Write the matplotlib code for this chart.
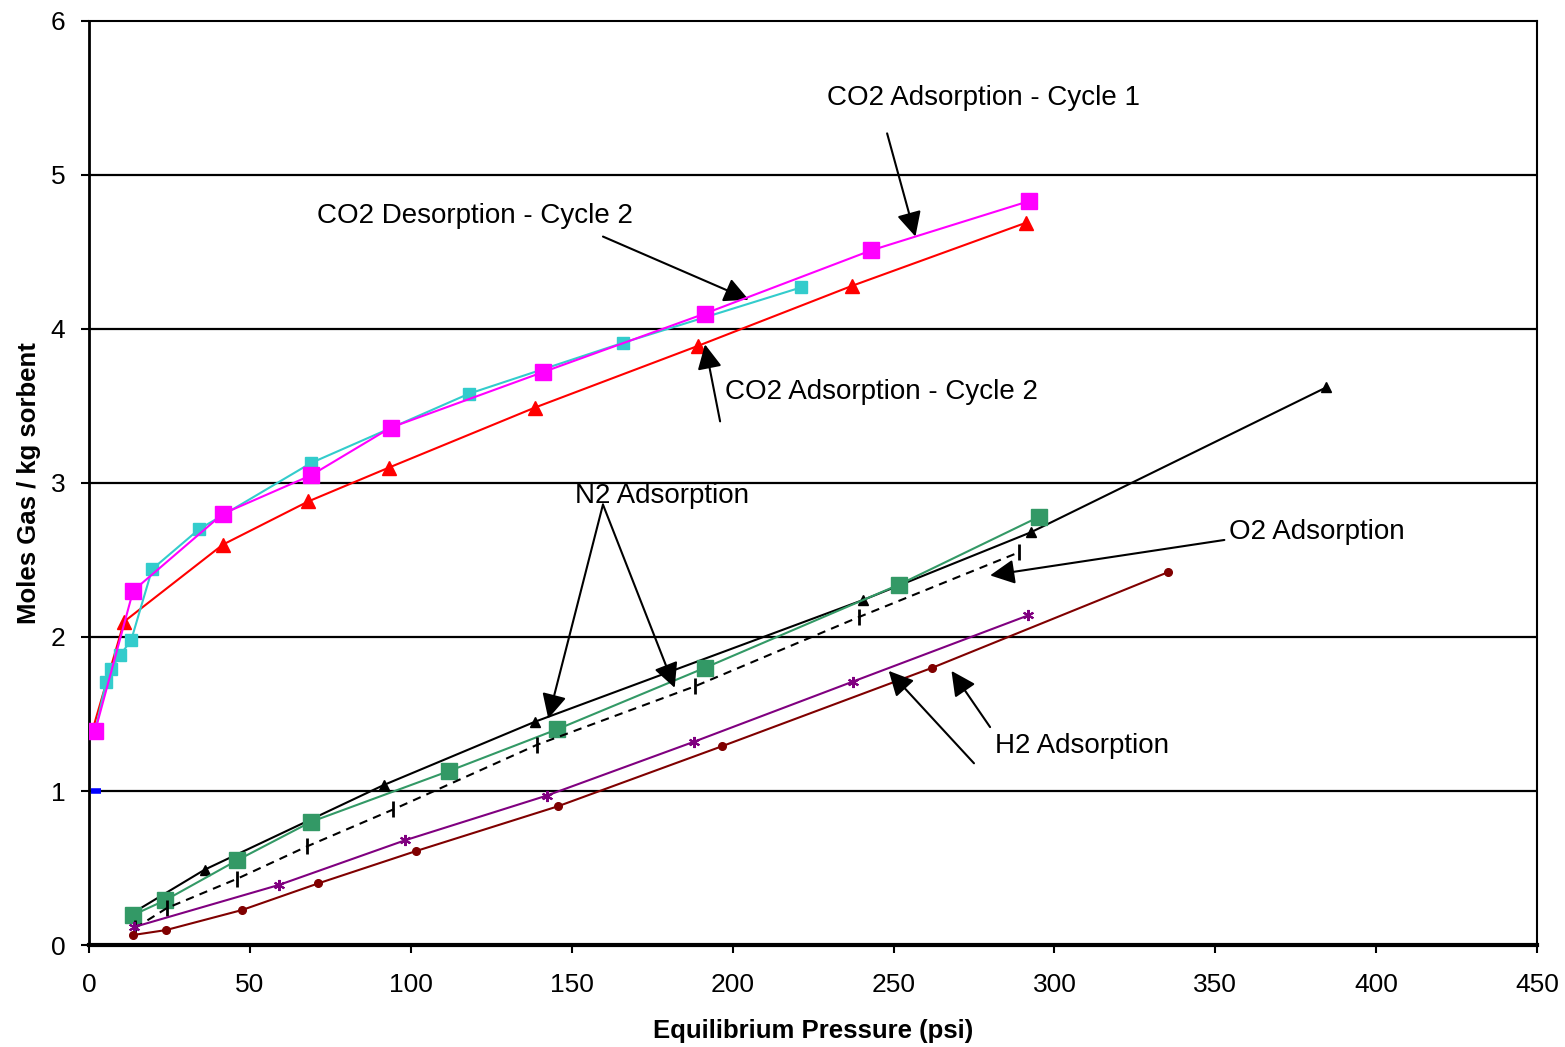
import matplotlib.pyplot as plt

plt.rcParams['font.family'] = ['Liberation Sans', 'DejaVu Sans']

## CO2 adsorption - cycle 1 (magenta squares)
co2_c1_p = [1.9, 13.7, 41.6, 69.0, 93.8, 141.1, 191.4, 243.0, 292.1]
co2_c1_m = [1.39, 2.30, 2.80, 3.05, 3.36, 3.72, 4.10, 4.51, 4.83]

## CO2 desorption - cycle 2 (cyan squares)
co2_des_p = [1.9, 5.3, 6.8, 9.6, 13.1, 19.6, 34.2, 69.0, 118.1, 165.9, 221.3]
co2_des_m = [1.39, 1.71, 1.79, 1.88, 1.98, 2.44, 2.70, 3.13, 3.58, 3.91, 4.27]

## CO2 adsorption - cycle 2 (red triangles)
co2_c2_p = [1.0, 10.9, 41.6, 68.1, 93.2, 138.6, 189.2, 237.1, 291.2]
co2_c2_m = [1.39, 2.10, 2.60, 2.88, 3.10, 3.49, 3.89, 4.28, 4.69]

## N2 runs
n2_a_p = [13.7, 36.0, 91.7, 138.6, 240.5, 292.7, 384.4]
n2_a_m = [0.21, 0.49, 1.04, 1.45, 2.24, 2.68, 3.62]
n2_b_p = [13.7, 23.6, 46.0, 69.0, 111.9, 145.4, 191.4, 251.7, 295.2]
n2_b_m = [0.195, 0.29, 0.55, 0.80, 1.13, 1.40, 1.80, 2.34, 2.78]

## O2
o2_p = [14.3, 24.2, 46.0, 67.7, 94.5, 139.2, 188.3, 239.3, 289.0]
o2_m = [0.11, 0.24, 0.43, 0.64, 0.88, 1.30, 1.68, 2.13, 2.55]

## H2 runs
h2_a_p = [14.0, 59.0, 98.2, 142.2, 188.0, 237.3, 291.8]
h2_a_m = [0.117, 0.39, 0.68, 0.97, 1.32, 1.71, 2.14]
h2_b_p = [13.7, 23.9, 47.5, 71.2, 101.6, 145.6, 196.6, 262.0, 335.2]
h2_b_m = [0.065, 0.097, 0.227, 0.40, 0.61, 0.90, 1.29, 1.80, 2.42]

## lone blue point
blue_p = [2.2]
blue_m = [1.0]

fig = plt.figure(figsize=(15.65, 10.47), dpi=100)
ax = fig.add_axes([0.0569, 0.0974, 0.9253, 0.8826])

ax.set_xlim(0, 450)
ax.set_ylim(0, 6)
ax.set_xticks(range(0, 451, 50))
ax.set_yticks(range(0, 7))
for yv in range(1, 6):
    ax.axhline(yv, color='black', lw=1.6, zorder=1)

lw = 1.5
ax.plot(co2_c2_p, co2_c2_m, color='#FF0000', marker='^', ms=10, lw=lw, zorder=3)
ax.plot(co2_des_p, co2_des_m, color='#33CCCC', marker='s', ms=8.5, lw=lw, zorder=3)
ax.plot(co2_c1_p, co2_c1_m, color='#FF00FF', marker='s', ms=11, lw=lw, zorder=4)
ax.plot(n2_a_p, n2_a_m, color='black', marker='^', ms=6.5, lw=lw, zorder=3)
ax.plot(n2_b_p, n2_b_m, color='#339966', marker='s', ms=11, lw=lw, zorder=3)
ax.plot(o2_p, o2_m, color='black', marker='|', ms=11, mew=2, lw=lw, ls=(0, (4, 3)), zorder=3)
ax.plot(h2_a_p, h2_a_m, color='#800080', marker=(6, 2, 0), ms=8, mew=1.5, lw=lw, zorder=3)
ax.plot(h2_b_p, h2_b_m, color='#800000', marker='o', ms=5.5, lw=lw, zorder=3)
ax.plot(blue_p, blue_m, color='#0000FF', marker='_', ms=7, mew=4, ls='none', zorder=3)

arrow = dict(arrowstyle='-|>,head_length=0.5,head_width=0.25', color='black', lw=1.5,
             mutation_scale=30, shrinkA=0, shrinkB=0)
fs = 20
ax.text(229.3, 5.50, 'CO2 Adsorption - Cycle 1', fontsize=fs, ha='left', va='center')
ax.annotate('', xy=(256.8, 4.6), xytext=(248, 5.27), arrowprops=arrow)
ax.text(70.9, 4.734, 'CO2 Desorption - Cycle 2', fontsize=fs, ha='left', va='center')
ax.annotate('', xy=(205, 4.19), xytext=(159.7, 4.6), arrowprops=arrow)
ax.text(197.6, 3.59, 'CO2 Adsorption - Cycle 2', fontsize=fs, ha='left', va='center')
ax.annotate('', xy=(191.4, 3.90), xytext=(196.1, 3.40), arrowprops=arrow)
ax.text(151.0, 2.916, 'N2 Adsorption', fontsize=fs, ha='left', va='center')
ax.annotate('', xy=(142.7, 1.47), xytext=(159.7, 2.86), arrowprops=arrow)
ax.annotate('', xy=(182, 1.67), xytext=(159.7, 2.86), arrowprops=arrow)
ax.text(354.3, 2.68, 'O2 Adsorption', fontsize=fs, ha='left', va='center')
ax.annotate('', xy=(280, 2.40), xytext=(352.8, 2.63), arrowprops=arrow)
ax.text(281.5, 1.292, 'H2 Adsorption', fontsize=fs, ha='left', va='center')
ax.annotate('', xy=(268, 1.78), xytext=(280, 1.415), arrowprops=arrow)
ax.annotate('', xy=(248.5, 1.78), xytext=(275, 1.18), arrowprops=arrow)

ax.set_xlabel('Equilibrium Pressure (psi)', fontsize=18.5, fontweight='bold', labelpad=16)
ax.set_ylabel('Moles Gas / kg sorbent', fontsize=18.5, fontweight='bold', labelpad=7)
ax.tick_params(axis='both', labelsize=19, direction='out', length=6, width=1.5, colors='black')
ax.tick_params(axis='x', pad=14)
ax.tick_params(axis='y', pad=11)
for side in ['left', 'bottom', 'top', 'right']:
    ax.spines[side].set_linewidth(1.5)
ax.spines['bottom'].set_linewidth(3)
ax.spines['left'].set_linewidth(2)

fig.savefig('out.png', dpi=100)
